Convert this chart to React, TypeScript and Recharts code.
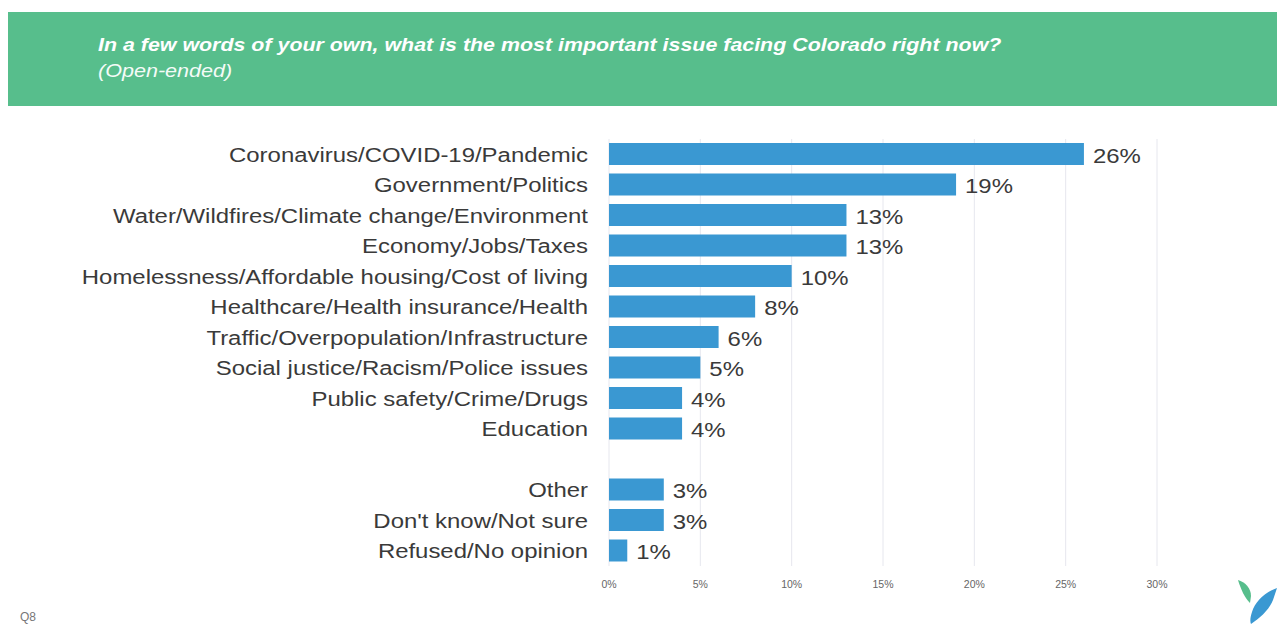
import React from "react";
import {
  BarChart,
  Bar,
  XAxis,
  YAxis,
  CartesianGrid,
  LabelList,
} from "recharts";

// issue categories, the empty one is the spacer row before "Other"
const categories = [
  "Coronavirus/COVID-19/Pandemic",
  "Government/Politics",
  "Water/Wildfires/Climate change/Environment",
  "Economy/Jobs/Taxes",
  "Homelessness/Affordable housing/Cost of living",
  "Healthcare/Health insurance/Health",
  "Traffic/Overpopulation/Infrastructure",
  "Social justice/Racism/Police issues",
  "Public safety/Crime/Drugs",
  "Education",
  "",
  "Other",
  "Don't know/Not sure",
  "Refused/No opinion",
];

const shares = [26, 19, 13, 13, 10, 8, 6, 5, 4, 4, null, 3, 3, 1];

const xTicks = [0, 5, 10, 15, 20, 25, 30];

const question =
  "In a few words of your own, what is the most important issue facing Colorado right now?";
const questionNote = "(Open-ended)";

const font = "'Liberation Sans', Arial, sans-serif";
// the slide text is a bit wider than plain Arial
const stretch = 1.14;

const CategoryTick = (props: any) => {
  const { y, label } = props;
  return (
    <g transform={`translate(588,${y}) scale(${stretch},1)`}>
      <text
        x={0}
        y={0}
        dy={7.5}
        textAnchor="end"
        fontSize={21}
        fontFamily={font}
        fill="#3a3a3a"
      >
        {label}
      </text>
    </g>
  );
};

const PercentTick = (props: any) => {
  const { x, y, payload } = props;
  return (
    <text
      x={x}
      y={y}
      dy={4}
      textAnchor="middle"
      fontSize={10.5}
      fontFamily={font}
      fill="#666"
    >
      {payload.value}%
    </text>
  );
};

const ValueLabel = (props: any) => {
  const { x, y, width, height, value } = props;
  if (value == null) return null;
  const tx = Number(x) + Number(width) + 9;
  const ty = Number(y) + Number(height) / 2;
  return (
    <g transform={`translate(${tx},${ty}) scale(${stretch},1)`}>
      <text
        x={0}
        y={0}
        dy={8.5}
        textAnchor="start"
        fontSize={21}
        fontFamily={font}
        fill="#3a3a3a"
      >
        {value}%
      </text>
    </g>
  );
};

const App = () => {
  const chartData = categories.map((name, i) => ({
    key: name || `gap-${i}`,
    name,
    value: shares[i],
  }));

  return (
    <div
      style={{
        position: "absolute",
        left: 0,
        top: 0,
        width: 1277,
        height: 624,
        background: "#fff",
        overflow: "hidden",
        fontFamily: font,
      }}
    >
      <div
        style={{
          position: "absolute",
          left: 8,
          top: 12,
          width: 1269,
          height: 94,
          background: "#57be8c",
        }}
      />
      <div
        style={{
          position: "absolute",
          left: 98,
          top: 34,
          color: "#fff",
          fontSize: 19,
          fontWeight: "bold",
          fontStyle: "italic",
          whiteSpace: "nowrap",
          transform: "scaleX(1.126)",
          transformOrigin: "left top",
        }}
      >
        {question}
      </div>
      <div
        style={{
          position: "absolute",
          left: 98,
          top: 60,
          color: "#f4fbf7",
          fontSize: 19,
          fontStyle: "italic",
          whiteSpace: "nowrap",
          transform: "scaleX(1.135)",
          transformOrigin: "left top",
        }}
      >
        {questionNote}
      </div>

      <div style={{ position: "absolute", left: 0, top: 0 }}>
        <BarChart
          width={1277}
          height={624}
          data={chartData}
          layout="vertical"
          margin={{ top: 139, right: 120, bottom: 28, left: 0 }}
        >
          <CartesianGrid horizontal={false} stroke="#e6e7ee" />
          <XAxis
            type="number"
            domain={[0, 30]}
            ticks={xTicks}
            axisLine={false}
            tickLine={false}
            height={30}
            tick={<PercentTick />}
            tickMargin={12}
          />
          <YAxis
            type="category"
            dataKey="key"
            width={609}
            axisLine={false}
            tickLine={false}
            interval={0}
            tick={(p: any) => (
              <CategoryTick y={p.y} label={chartData[p.index]?.name ?? ""} />
            )}
          />
          <Bar
            dataKey="value"
            fill="#3a98d2"
            barSize={22}
            isAnimationActive={false}
          >
            <LabelList dataKey="value" content={<ValueLabel />} />
          </Bar>
        </BarChart>
      </div>

      <div
        style={{
          position: "absolute",
          left: 20,
          top: 610,
          fontSize: 12,
          color: "#777",
        }}
      >
        Q8
      </div>

      <svg
        width={45}
        height={50}
        style={{ position: "absolute", left: 1235, top: 578 }}
      >
        <path d="M3 2 C10 4 16 10 16 18 L15 25 C10 20 6 12 3 2 Z" fill="#57be8c" />
        <path
          d="M42 10 C30 14 20 24 17 34 C15 40 15 44 16 46 C25 40 34 32 38 22 Z"
          fill="#3a98d2"
        />
      </svg>
    </div>
  );
};

export default App;
